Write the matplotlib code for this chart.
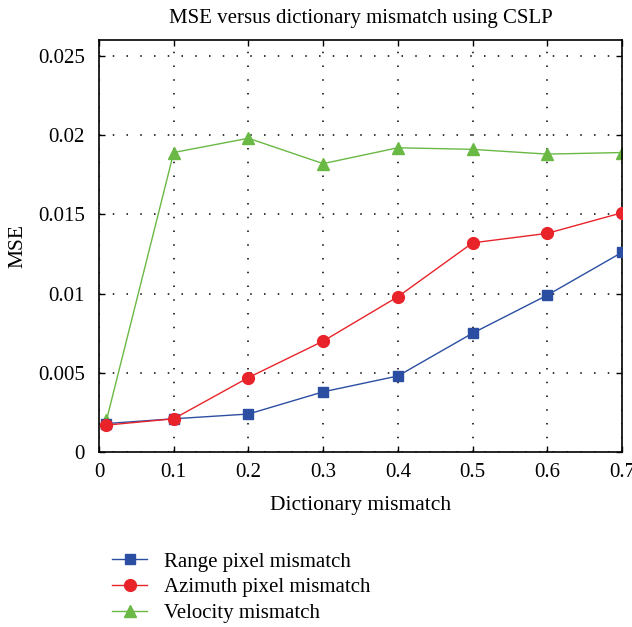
import matplotlib
matplotlib.use("Agg")
import matplotlib.pyplot as plt

mismatch = [0.01, 0.1, 0.2, 0.3, 0.4, 0.5, 0.6, 0.7]
range_mse = [0.0018, 0.0021, 0.0024, 0.0038, 0.0048, 0.0075, 0.0099, 0.0126]
azimuth_mse = [0.0017, 0.0021, 0.0047, 0.0070, 0.0098, 0.0132, 0.0138, 0.0151]
velocity_mse = [0.0020, 0.0189, 0.0198, 0.0182, 0.0192, 0.0191, 0.0188, 0.0189]

xticks = [0, 0.1, 0.2, 0.3, 0.4, 0.5, 0.6, 0.7]
xticklabels = ["0", "0.1", "0.2", "0.3", "0.4", "0.5", "0.6", "0.7"]
yticks = [0, 0.005, 0.01, 0.015, 0.02, 0.025]
yticklabels = ["0", "0.005", "0.01", "0.015", "0.02", "0.025"]

plt.rcParams['font.family'] = ['Liberation Serif', 'DejaVu Serif']

fig = plt.figure(figsize=(6.32, 6.27), dpi=100)
ax = fig.add_axes([0.1566, 0.279, 0.8276, 0.6572])

blue = "#2b4ea2"
red = "#e8242a"
green = "#6ab945"

ax.plot(mismatch, range_mse, color=blue, lw=1.0, marker='s', ms=7,
        label="Range pixel mismatch", zorder=3)
ax.plot(mismatch, azimuth_mse, color=red, lw=1.0, marker='o', ms=8.5,
        label="Azimuth pixel mismatch", zorder=3)
ax.plot(mismatch, velocity_mse, color=green, lw=1.0, marker='^', ms=9,
        label="Velocity mismatch", zorder=2)

ax.set_xlim(0, 0.7)
ax.set_ylim(0, 0.026)
ax.set_xticks(xticks)
ax.set_xticklabels(xticklabels)
ax.set_yticks(yticks)
ax.set_yticklabels(yticklabels)
ax.tick_params(direction='in', top=True, right=True, length=4, width=1,
               labelsize=15, pad=8)
ax.tick_params(axis='y', pad=10)
ax.grid(True, color='black', linestyle=(0, (1, 8)), linewidth=1.1)
for s in ax.spines.values():
    s.set_linewidth(1.2)

ax.set_title("MSE versus dictionary mismatch using CSLP", fontsize=15, pad=12)
ax.set_xlabel("Dictionary mismatch", fontsize=15.5, labelpad=10)
ax.set_ylabel("MSE", fontsize=15.5, labelpad=8)

fig.legend(loc='upper left', bbox_to_anchor=(0.164, 0.133), frameon=False,
           fontsize=15, handlelength=1.7, handletextpad=0.8,
           labelspacing=0.3, borderaxespad=0)

fig.savefig("out.png", dpi=100)
